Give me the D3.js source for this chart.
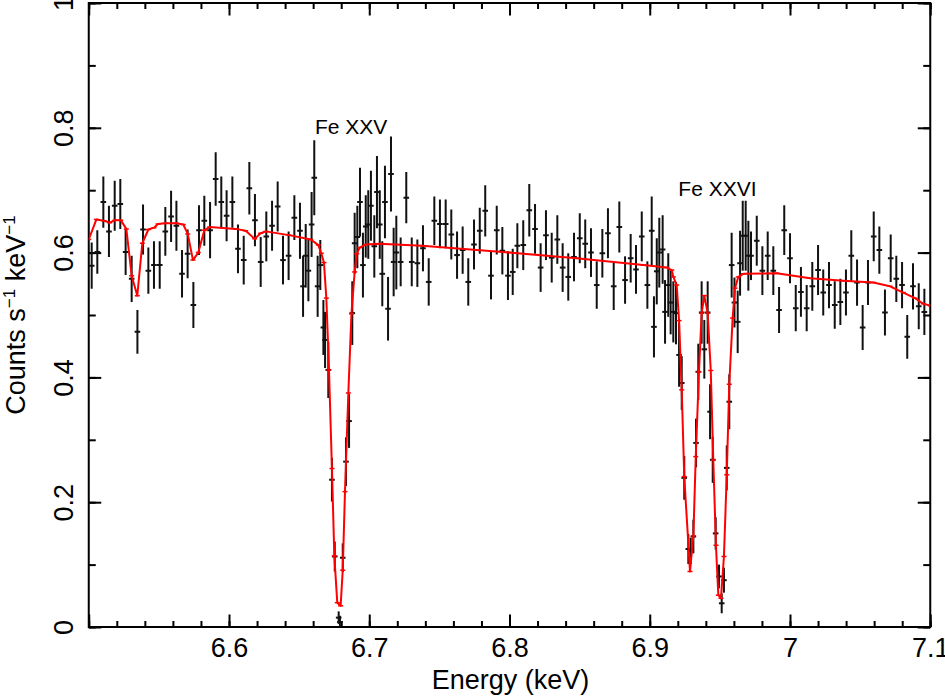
<!DOCTYPE html>
<html>
<head>
<meta charset="utf-8">
<script src="https://cdn.jsdelivr.net/npm/d3@7"></script>
<style>
  body { margin: 0; background: #fff; }
  text { font-family: 'Liberation Sans', Arial, Helvetica, sans-serif; fill: #000; }
</style>
</head>
<body>
<div id="chart"></div>
<script>
// observed spectrum: bin centre (keV), rate (counts/s/keV), 1-sigma error
const dataEnergy = [
  6.5021, 6.5061, 6.5104, 6.5144, 6.5185, 6.5225, 6.5263, 6.5306, 6.5347, 6.5387,
  6.5425, 6.5465, 6.5506, 6.5546, 6.5587, 6.5625, 6.5665, 6.5705, 6.5746, 6.5786,
  6.5824, 6.5865, 6.5905, 6.5945, 6.5983, 6.6024, 6.6064, 6.6105, 6.6145, 6.6185,
  6.6226, 6.6266, 6.6307, 6.6347, 6.6385, 6.6425, 6.6466, 6.6506, 6.6528, 6.6547,
  6.6566, 6.6589, 6.6608, 6.6632, 6.6651, 6.6673, 6.6685, 6.6708, 6.6734, 6.6754,
  6.6782, 6.6791, 6.6811, 6.6834, 6.6856, 6.6879, 6.6896, 6.6915, 6.6934, 6.6955,
  6.6975, 6.6993, 6.7012, 6.7036, 6.7055, 6.7075, 6.7093, 6.7112, 6.7134, 6.7155,
  6.7174, 6.7193, 6.7224, 6.7264, 6.7303, 6.7343, 6.7383, 6.7424, 6.7464, 6.7504,
  6.7545, 6.7585, 6.7626, 6.7666, 6.7706, 6.7747, 6.7788, 6.7827, 6.7868, 6.7909,
  6.7949, 6.7989, 6.8023, 6.8056, 6.8098, 6.8141, 6.8182, 6.8222, 6.8260, 6.8301,
  6.8341, 6.8379, 6.8419, 6.8460, 6.8501, 6.8540, 6.8581, 6.8622, 6.8662, 6.8702,
  6.8743, 6.8783, 6.8824, 6.8864, 6.8902, 6.8943, 6.8983, 6.9014, 6.9030, 6.9050,
  6.9068, 6.9092, 6.9109, 6.9132, 6.9149, 6.9168, 6.9187, 6.9209, 6.9228, 6.9246,
  6.9275, 6.9292, 6.9311, 6.9330, 6.9346, 6.9370, 6.9389, 6.9413, 6.9430, 6.9449,
  6.9470, 6.9494, 6.9513, 6.9529, 6.9549, 6.9567, 6.9584, 6.9604, 6.9627, 6.9644,
  6.9663, 6.9684, 6.9703, 6.9722, 6.9763, 6.9803, 6.9841, 6.9881, 6.9922, 6.9959,
  7.0000, 7.0041, 7.0078, 7.0119, 7.0159, 7.0200, 7.0237, 7.0278, 7.0319, 7.0359,
  7.0399, 7.0437, 7.0478, 7.0518, 7.0556, 7.0597, 7.0637, 7.0677, 7.0718, 7.0758,
  7.0799, 7.0836, 7.0877, 7.0918, 7.0958
];
const dataRate = [
  0.579, 0.601, 0.681, 0.634, 0.675, 0.678, 0.601, 0.558, 0.473, 0.637,
  0.571, 0.580, 0.580, 0.634, 0.658, 0.643, 0.566, 0.598, 0.516, 0.636,
  0.651, 0.636, 0.718, 0.681, 0.659, 0.681, 0.606, 0.588, 0.703, 0.652,
  0.585, 0.626, 0.643, 0.674, 0.588, 0.595, 0.656, 0.635, 0.546, 0.595,
  0.571, 0.645, 0.720, 0.546, 0.580, 0.480, 0.460, 0.412, 0.236, 0.113,
  0.015, 0.008, 0.111, 0.265, 0.330, 0.503, 0.615, 0.625, 0.681, 0.580,
  0.642, 0.645, 0.675, 0.610, 0.697, 0.645, 0.566, 0.681, 0.510, 0.726,
  0.585, 0.600, 0.585, 0.688, 0.585, 0.583, 0.607, 0.553, 0.651, 0.646,
  0.646, 0.629, 0.596, 0.604, 0.553, 0.613, 0.635, 0.667, 0.563, 0.636,
  0.603, 0.563, 0.569, 0.611, 0.612, 0.668, 0.638, 0.576, 0.628, 0.592,
  0.621, 0.576, 0.561, 0.593, 0.623, 0.614, 0.600, 0.548, 0.599, 0.631,
  0.546, 0.641, 0.556, 0.591, 0.573, 0.626, 0.548, 0.635, 0.481, 0.570,
  0.600, 0.605, 0.505, 0.548, 0.520, 0.505, 0.503, 0.436, 0.391, 0.239,
  0.125, 0.122, 0.145, 0.295, 0.409, 0.504, 0.445, 0.504, 0.345, 0.268,
  0.150, 0.081, 0.038, 0.075, 0.255, 0.361, 0.580, 0.520, 0.489, 0.583,
  0.627, 0.627, 0.595, 0.595, 0.619, 0.571, 0.595, 0.571, 0.508, 0.636,
  0.591, 0.511, 0.537, 0.511, 0.546, 0.572, 0.536, 0.548, 0.516, 0.521,
  0.536, 0.595, 0.552, 0.480, 0.552, 0.626, 0.604, 0.504, 0.591, 0.558,
  0.548, 0.465, 0.546, 0.514, 0.505
];
const dataErr = [
  0.037, 0.035, 0.041, 0.041, 0.040, 0.040, 0.037, 0.037, 0.035, 0.040,
  0.037, 0.038, 0.038, 0.039, 0.041, 0.040, 0.038, 0.039, 0.037, 0.040,
  0.040, 0.045, 0.043, 0.041, 0.041, 0.041, 0.039, 0.039, 0.042, 0.042,
  0.040, 0.040, 0.040, 0.040, 0.039, 0.039, 0.036, 0.045, 0.049, 0.051,
  0.049, 0.052, 0.060, 0.049, 0.040, 0.044, 0.045, 0.045, 0.035, 0.024,
  0.010, 0.010, 0.023, 0.039, 0.043, 0.051, 0.049, 0.050, 0.055, 0.052,
  0.050, 0.055, 0.056, 0.050, 0.058, 0.055, 0.052, 0.058, 0.051, 0.060,
  0.055, 0.059, 0.039, 0.041, 0.039, 0.038, 0.037, 0.038, 0.039, 0.039,
  0.039, 0.040, 0.038, 0.038, 0.038, 0.040, 0.037, 0.041, 0.038, 0.039,
  0.038, 0.039, 0.037, 0.036, 0.040, 0.042, 0.040, 0.039, 0.040, 0.040,
  0.039, 0.039, 0.038, 0.039, 0.040, 0.039, 0.039, 0.038, 0.039, 0.040,
  0.038, 0.041, 0.038, 0.039, 0.039, 0.040, 0.038, 0.055, 0.049, 0.053,
  0.056, 0.055, 0.051, 0.051, 0.051, 0.049, 0.050, 0.051, 0.043, 0.035,
  0.024, 0.021, 0.027, 0.039, 0.045, 0.050, 0.047, 0.050, 0.044, 0.037,
  0.026, 0.019, 0.016, 0.020, 0.036, 0.044, 0.052, 0.040, 0.050, 0.052,
  0.056, 0.056, 0.056, 0.039, 0.040, 0.039, 0.039, 0.039, 0.037, 0.040,
  0.040, 0.037, 0.040, 0.037, 0.039, 0.040, 0.037, 0.037, 0.038, 0.037,
  0.037, 0.041, 0.037, 0.036, 0.036, 0.040, 0.038, 0.037, 0.038, 0.037,
  0.037, 0.035, 0.037, 0.037, 0.037
];
const binHalfWidth = 0.002;

// fitted model (red)
const modelEnergy = [
  6.5000, 6.5054, 6.5109, 6.5149, 6.5187, 6.5228, 6.5268, 6.5306, 6.5346, 6.5382,
  6.5425, 6.5465, 6.5494, 6.5546, 6.5624, 6.5674, 6.5706, 6.5743, 6.5781, 6.5824,
  6.5862, 6.6048, 6.6119, 6.6183, 6.6226, 6.6262, 6.6428, 6.6583, 6.6637, 6.6658,
  6.6677, 6.6694, 6.6713, 6.6734, 6.6751, 6.6772, 6.6796, 6.6811, 6.6827, 6.6851,
  6.6873, 6.6896, 6.6911, 6.6932, 6.6975, 6.7070, 6.7378, 6.7996, 6.8479, 6.8954,
  6.9121, 6.9157, 6.9168, 6.9192, 6.9209, 6.9228, 6.9246, 6.9287, 6.9311, 6.9328,
  6.9351, 6.9370, 6.9389, 6.9413, 6.9435, 6.9453, 6.9472, 6.9489, 6.9508, 6.9529,
  6.9549, 6.9567, 6.9591, 6.9608, 6.9631, 6.9667, 6.9905, 7.0143, 7.0380, 7.0594,
  7.0713, 7.0808, 7.0891, 7.0950, 7.1000
];
const modelRate = [
  0.621, 0.653, 0.651, 0.648, 0.652, 0.652, 0.638, 0.563, 0.531, 0.615,
  0.637, 0.640, 0.646, 0.647, 0.647, 0.645, 0.630, 0.588, 0.600, 0.636,
  0.641, 0.638, 0.635, 0.622, 0.631, 0.634, 0.628, 0.621, 0.612, 0.599,
  0.584, 0.527, 0.412, 0.254, 0.114, 0.039, 0.034, 0.091, 0.217, 0.375,
  0.502, 0.569, 0.598, 0.608, 0.613, 0.614, 0.611, 0.600, 0.591, 0.580,
  0.576, 0.572, 0.561, 0.548, 0.491, 0.380, 0.241, 0.089, 0.146, 0.273,
  0.409, 0.503, 0.531, 0.503, 0.411, 0.268, 0.131, 0.051, 0.046, 0.113,
  0.244, 0.389, 0.495, 0.543, 0.561, 0.566, 0.567, 0.559, 0.555, 0.552,
  0.546, 0.536, 0.527, 0.518, 0.515
];

const xMajorTicks = [6.5, 6.6, 6.7, 6.8, 6.9, 7.0, 7.1];
const xTickLabels = ['', '6.6', '6.7', '6.8', '6.9', '7', '7.1'];
const yMajorTicks = [0, 0.2, 0.4, 0.6, 0.8, 1];
const yTickLabels = ['0', '0.2', '0.4', '0.6', '0.8', '1'];
const lineNames = ['Fe XXV', 'Fe XXVI'];

const width = 945,
  height = 697,
  plotLeft = 88.75,
  plotRight = 930.25,
  plotTop = 3,
  plotBottom = 627;

const x = d3.scaleLinear()
    .domain([6.5, 7.1])
    .range([plotLeft, plotRight]);

const y = d3.scaleLinear()
    .domain([0, 1])
    .range([plotBottom, plotTop]);

const xMinor = d3.range(6.5, 7.1001, 0.02);
const yMinor = d3.range(0, 1.001, 0.1);

const svg = d3.select('#chart').append('svg')
    .attr('width', width)
    .attr('height', height);

svg.append('defs').append('clipPath')
    .attr('id', 'plot-clip')
  .append('rect')
    .attr('x', plotLeft)
    .attr('y', plotTop)
    .attr('width', plotRight - plotLeft)
    .attr('height', plotBottom - plotTop);

function styleAxis(g) {
  g.select('.domain').remove();
  g.selectAll('line').attr('stroke', '#000').attr('stroke-width', 2);
  g.selectAll('text').style('font-size', '27px');
}

// minor + major ticks on all four sides, pointing inwards
svg.append('g')
    .attr('transform', `translate(0,${plotBottom})`)
    .call(d3.axisBottom(x).tickValues(xMinor).tickSize(-6).tickFormat(''))
    .call(styleAxis);
svg.append('g')
    .attr('transform', `translate(0,${plotBottom})`)
    .call(d3.axisBottom(x).tickValues(xMajorTicks).tickSize(-12.5).tickPadding(11)
      .tickFormat((d, i) => xTickLabels[i]))
    .call(styleAxis);
svg.append('g')
    .attr('transform', `translate(0,${plotTop})`)
    .call(d3.axisTop(x).tickValues(xMinor).tickSize(-6).tickFormat(''))
    .call(styleAxis);
svg.append('g')
    .attr('transform', `translate(0,${plotTop})`)
    .call(d3.axisTop(x).tickValues(xMajorTicks).tickSize(-12.5).tickFormat(''))
    .call(styleAxis);

svg.append('g')
    .attr('transform', `translate(${plotLeft},0)`)
    .call(d3.axisLeft(y).tickValues(yMinor).tickSize(-7).tickFormat(''))
    .call(styleAxis);
const yAxisG = svg.append('g')
    .attr('transform', `translate(${plotLeft},0)`)
    .call(d3.axisLeft(y).tickValues(yMajorTicks).tickSize(-12.5)
      .tickFormat((d, i) => yTickLabels[i]))
    .call(styleAxis);
yAxisG.selectAll('text')
    .attr('x', null)
    .attr('dy', null)
    .attr('text-anchor', 'middle')
    .attr('transform', 'translate(-16,0) rotate(-90)');
svg.append('g')
    .attr('transform', `translate(${plotRight},0)`)
    .call(d3.axisRight(y).tickValues(yMinor).tickSize(-7).tickFormat(''))
    .call(styleAxis);
svg.append('g')
    .attr('transform', `translate(${plotRight},0)`)
    .call(d3.axisRight(y).tickValues(yMajorTicks).tickSize(-12.5).tickFormat(''))
    .call(styleAxis);

svg.append('rect')
    .attr('x', plotLeft)
    .attr('y', plotTop)
    .attr('width', plotRight - plotLeft)
    .attr('height', plotBottom - plotTop)
    .attr('fill', 'none')
    .attr('stroke', '#000')
    .attr('stroke-width', 2);

// data crosses
const data = dataEnergy.map((e, i) => ({ e, r: dataRate[i], err: dataErr[i] }));
const pts = svg.append('g')
    .attr('clip-path', 'url(#plot-clip)')
    .attr('stroke', '#111')
    .attr('stroke-width', 2);

pts.selectAll('.ebar')
    .data(data)
  .enter().append('line')
    .attr('class', 'ebar')
    .attr('x1', (d) => x(d.e))
    .attr('x2', (d) => x(d.e))
    .attr('y1', (d) => y(d.r - d.err))
    .attr('y2', (d) => y(d.r + d.err));

pts.selectAll('.bin')
    .data(data)
  .enter().append('line')
    .attr('class', 'bin')
    .attr('x1', (d) => x(d.e - binHalfWidth))
    .attr('x2', (d) => x(d.e + binHalfWidth))
    .attr('y1', (d) => y(d.r))
    .attr('y2', (d) => y(d.r));

// model
const model = modelEnergy.map((e, i) => ({ e, r: modelRate[i] }));
const modelG = svg.append('g')
    .attr('clip-path', 'url(#plot-clip)');

modelG.append('path')
    .datum(model)
    .attr('fill', 'none')
    .attr('stroke', '#ff0000')
    .attr('stroke-width', 2)
    .attr('stroke-linejoin', 'round')
    .attr('d', d3.line().x((d) => x(d.e)).y((d) => y(d.r)));

modelG.selectAll('.mtick')
    .data(model)
  .enter().append('line')
    .attr('class', 'mtick')
    .attr('stroke', '#ff0000')
    .attr('stroke-width', 1.5)
    .attr('x1', (d) => x(d.e) - 2.5)
    .attr('x2', (d) => x(d.e) + 2.5)
    .attr('y1', (d) => y(d.r))
    .attr('y2', (d) => y(d.r));

// line identifications
const labelAt = [[6.6613, 0.790], [6.9204, 0.691]];
svg.selectAll('.line-name')
    .data(lineNames)
  .enter().append('text')
    .attr('class', 'line-name')
    .attr('x', (d, i) => x(labelAt[i][0]))
    .attr('y', (d, i) => y(labelAt[i][1]))
    .style('font-size', '21px')
    .text((d) => d);

// axis titles
svg.append('text')
    .attr('x', (plotLeft + plotRight) / 2 + 1)
    .attr('y', 689)
    .attr('text-anchor', 'middle')
    .style('font-size', '27px')
    .text('Energy (keV)');

const yTitle = svg.append('text')
    .attr('transform', `translate(25,${(plotTop + plotBottom) / 2}) rotate(-90)`)
    .attr('text-anchor', 'middle')
    .style('font-size', '27px');
yTitle.append('tspan').text('Counts s');
yTitle.append('tspan').attr('dy', -10).style('font-size', '17px').text('−1');
yTitle.append('tspan').attr('dy', 10).text(' keV');
yTitle.append('tspan').attr('dy', -10).style('font-size', '17px').text('−1');
</script>
</body>
</html>
